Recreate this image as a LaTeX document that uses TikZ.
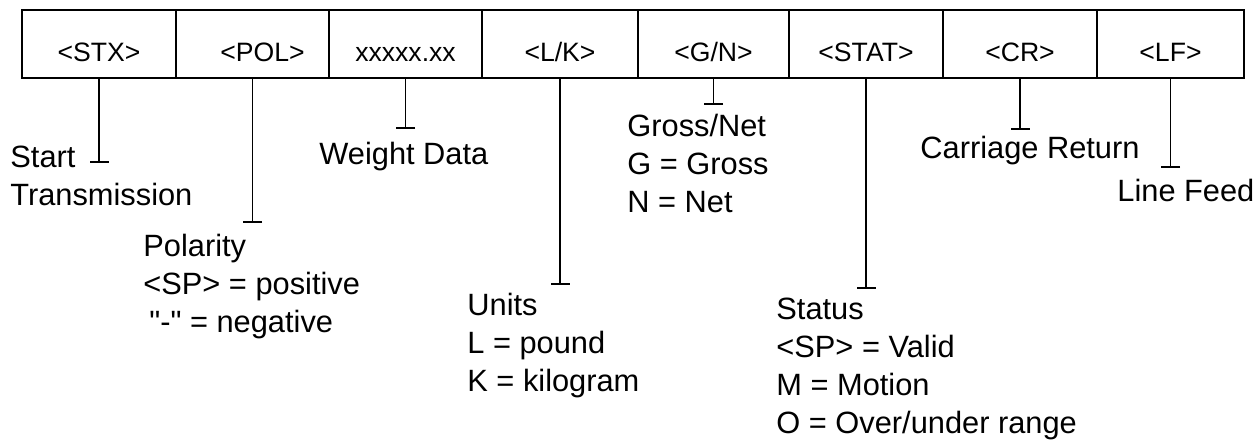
\documentclass[tikz,border=0pt]{standalone}
\usepackage{fontspec}
\setmainfont{Liberation Sans}
\usetikzlibrary{arrows.meta}

\tikzset{
  field/.style={draw,line width=1.2pt,inner xsep=0pt,inner ysep=0pt,text height=25.85pt,text depth=8.15pt,
    font=\fontsize{13.3}{16}\selectfont},
  tee/.style={line width=0.9pt,-{Bar[width=9.5pt]}},
  note/.style={anchor=base west,inner sep=0pt,align=left},
}

\begin{document}
\begin{tikzpicture}[x=0.5pt,y=-0.5pt,font=\fontsize{15.4}{19}\selectfont]
  \useasboundingbox (0,0) rectangle (1257,442);
  % the record fields
  \foreach \nm/\xa/\xb/\txt in {stx/22/176/{<STX>},pol/176/329/{\hspace*{10pt}<POL>},wgt/329/482/{xxxxx.xx},
      unit/482/638/{<L/K>},gn/638/789/{<G/N>},stat/789/943/{<STAT>},cr/943/1097/{<CR>},lf/1097/1244/{<LF>}}
    \node[field,minimum width={(\xb-\xa)*0.5pt}] (\nm) at ({(\xa+\xb)/2},44) {\txt};
  % descriptions (placed at the baseline of their last line)
  \node[note] (start) at (10,205.5) {Start\\Transmission};
  \node[note] (polarity) at (143,332.5) {Polarity\\<SP> = positive\\\hspace*{3pt}\textquotedbl-\textquotedbl{} = negative};
  \node[note] (wdata) at (319,165) {Weight Data};
  \node[note] (units) at (467,391.5) {Units\\L = pound\\K = kilogram};
  \node[note] (gross) at (627,212.5) {Gross/Net\\G = Gross\\N = Net};
  \node[note] (status) at (776,434) {Status\\<SP> = Valid\\M = Motion\\O = Over/under range};
  \node[note] (cret) at (920,159) {Carriage Return};
  \node[note] (lfeed) at (1117,202) {Line Feed};
  % leaders
  \foreach \nm/\yy in {stx/163,pol/223,wgt/129,unit/285,gn/105,stat/289,cr/130,lf/168}
    \draw[tee] (\nm.south) -- (\nm.south |- 0,\yy);
\end{tikzpicture}
\end{document}
